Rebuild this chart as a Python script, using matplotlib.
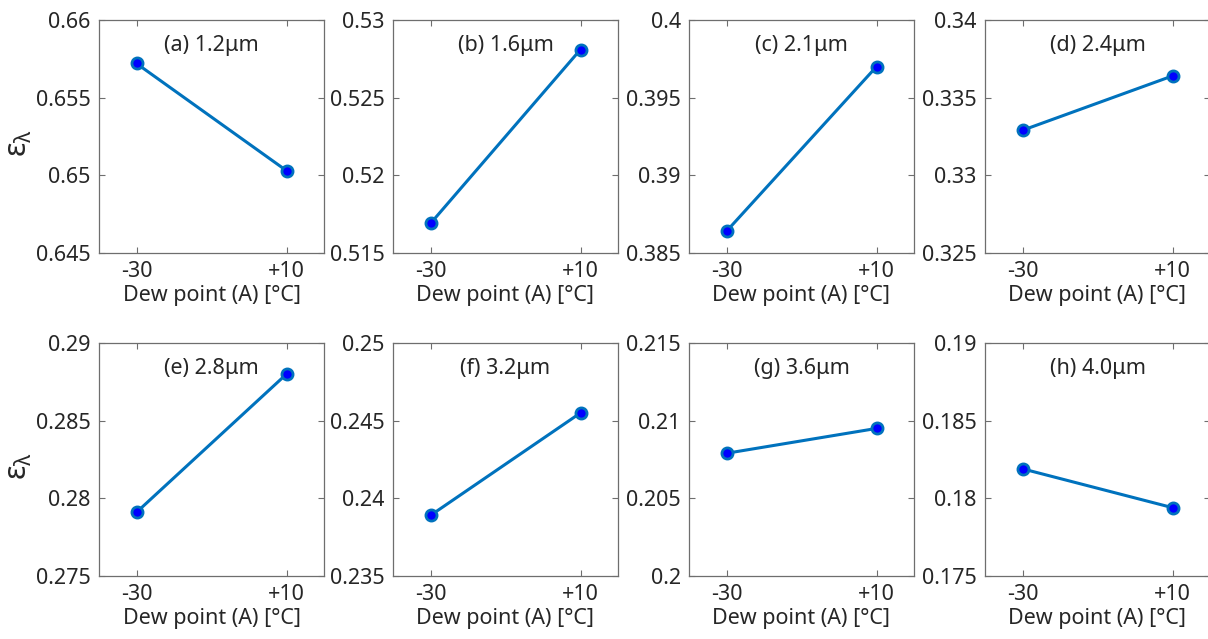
import matplotlib
matplotlib.use('Agg')

import matplotlib.pyplot as plt
from matplotlib.ticker import FuncFormatter

# --- 데이터 ---
DEW_POINTS = [-30, 10]
DEW_LABELS = ['-30', '+10']
TITLES = ['(a) 1.2μm', '(b) 1.6μm', '(c) 2.1μm', '(d) 2.4μm',
          '(e) 2.8μm', '(f) 3.2μm', '(g) 3.6μm', '(h) 4.0μm']
EMISSIVITY = [
    [0.6572, 0.6503],
    [0.5169, 0.5281],
    [0.3864, 0.3970],
    [0.3329, 0.3364],
    [0.2791, 0.2880],
    [0.2389, 0.2455],
    [0.2079, 0.2095],
    [0.1819, 0.1794],
]
Y_LIMITS = [
    (0.645, 0.66), (0.515, 0.53), (0.385, 0.40), (0.325, 0.34),
    (0.275, 0.29), (0.235, 0.25), (0.20, 0.215), (0.175, 0.19),
]
Y_STEP = 0.005

# --- 설정 ---
W, H = 1208, 639
DPI = 100
LINE_COLOR = '#0072BD'
FRAME_COLOR = '#6e6e6e'
TEXT_COLOR = '#262626'
FONT = 'Noto Sans'
FS = 15.5

plt.rcParams['font.family'] = [FONT, 'DejaVu Sans']
plt.rcParams['mathtext.default'] = 'regular'   # 그리스 문자 정체

fig = plt.figure(figsize=(W / DPI, H / DPI), dpi=DPI)

# 서브플롯 위치 (픽셀)
lefts = [99, 393, 689, 985]
tops = [20, 343]
ax_w, ax_h = 225, 233

for i, (vals, title, ylim) in enumerate(zip(EMISSIVITY, TITLES, Y_LIMITS)):
    row, col = divmod(i, 4)
    rect = [lefts[col] / W, (H - tops[row] - ax_h) / H, ax_w / W, ax_h / H]
    ax = fig.add_axes(rect)

    ax.plot(DEW_POINTS, vals, '-o', color=LINE_COLOR, lw=2.2,
            ms=8, mfc='#0000ff', mec=LINE_COLOR, mew=2)

    ax.set_xlim(-40, 20)
    ax.set_xticks(DEW_POINTS)
    ax.set_xticklabels(DEW_LABELS)
    ax.set_ylim(*ylim)
    ticks = [round(ylim[0] + k * Y_STEP, 3) for k in range(4)]
    ax.set_yticks(ticks)
    ax.yaxis.set_major_formatter(FuncFormatter(lambda v, p: f'{v:g}'))

    ax.tick_params(direction='in', length=4, width=0.8, color=FRAME_COLOR,
                   labelcolor=TEXT_COLOR, labelsize=FS, top=True, right=True, pad=6)
    for sp in ax.spines.values():
        sp.set_color(FRAME_COLOR)
        sp.set_linewidth(0.9)

    ax.set_xlabel('Dew point (A) [°C]', fontsize=FS, color=TEXT_COLOR, labelpad=2)
    ax.text(0.5, 0.89, title, transform=ax.transAxes, ha='center', va='center',
            fontsize=FS, color=TEXT_COLOR)

    if col == 0:
        ax.set_ylabel(r'$\varepsilon_{\lambda}$', fontsize=22, color=TEXT_COLOR)
        ax.yaxis.set_label_coords(-0.29, 0.47)

fig.savefig('out.png', dpi=DPI)
